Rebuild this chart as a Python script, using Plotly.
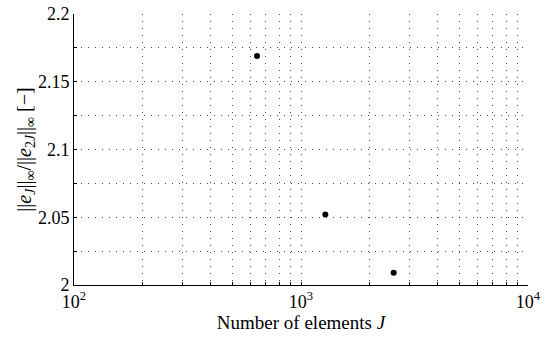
import plotly.graph_objects as go

elements = [640, 1280, 2560]
ratio = [2.169, 2.052, 2.009]

x_tickvals = [m * 10**e for e in (2, 3) for m in range(1, 10)] + [10000]
x_ticktext = ["10<sup>%d</sup>" % e if m == 1 else "" for e in (2, 3) for m in range(1, 10)] + ["10<sup>4</sup>"]
y_tickvals = [2 + 0.025 * i for i in range(9)]
y_labels = ["2", "", "2.05", "", "2.1", "", "2.15", "", "2.2"]

FAM = "Liberation Serif"
font = dict(family=FAM, size=18, color="black")

fig = go.Figure()
fig.add_trace(go.Scatter(
    x=elements, y=ratio, mode="markers",
    marker=dict(color="black", size=6),
    showlegend=False, hoverinfo="skip",
))

grid = dict(showgrid=True, gridcolor="rgba(0,0,0,0.7)", griddash="1px,6px", gridwidth=1)
fig.update_layout(
    width=547, height=341,
    margin=dict(l=74, r=19, t=14, b=56, autoexpand=False),
    plot_bgcolor="white", paper_bgcolor="white",
    font=font,
    xaxis=dict(
        type="log", range=[2, 4],
        tickmode="array", tickvals=x_tickvals, ticktext=x_ticktext,
        ticks="inside", ticklen=3, tickcolor="black",
        ticklabeloverflow="allow", automargin=False,
        tickfont=dict(family=FAM, size=18),
        showline=True, linecolor="black", linewidth=1,
        zeroline=False,
        title=dict(text="Number of elements <i>J</i>", standoff=0,
                   font=dict(family=FAM, size=19)),
        **grid,
    ),
    yaxis=dict(
        range=[2, 2.2],
        tickmode="array", tickvals=y_tickvals, ticktext=y_labels,
        ticks="inside", ticklen=3, tickcolor="black",
        ticklabeloverflow="allow", automargin=False,
        tickfont=dict(family=FAM, size=18),
        showline=True, linecolor="black", linewidth=1,
        zeroline=False,
        title=dict(text="||<i>e<sub>J</sub></i>||<sub>∞</sub>/||<i>e</i><sub>2<i>J</i></sub>||<sub>∞</sub> [−]", standoff=0,
                   font=dict(family=FAM, size=20)),
        **grid,
    ),
)

fig.write_html("out.html", config={"displayModeBar": False},
               post_script="document.body.style.margin='0';")
